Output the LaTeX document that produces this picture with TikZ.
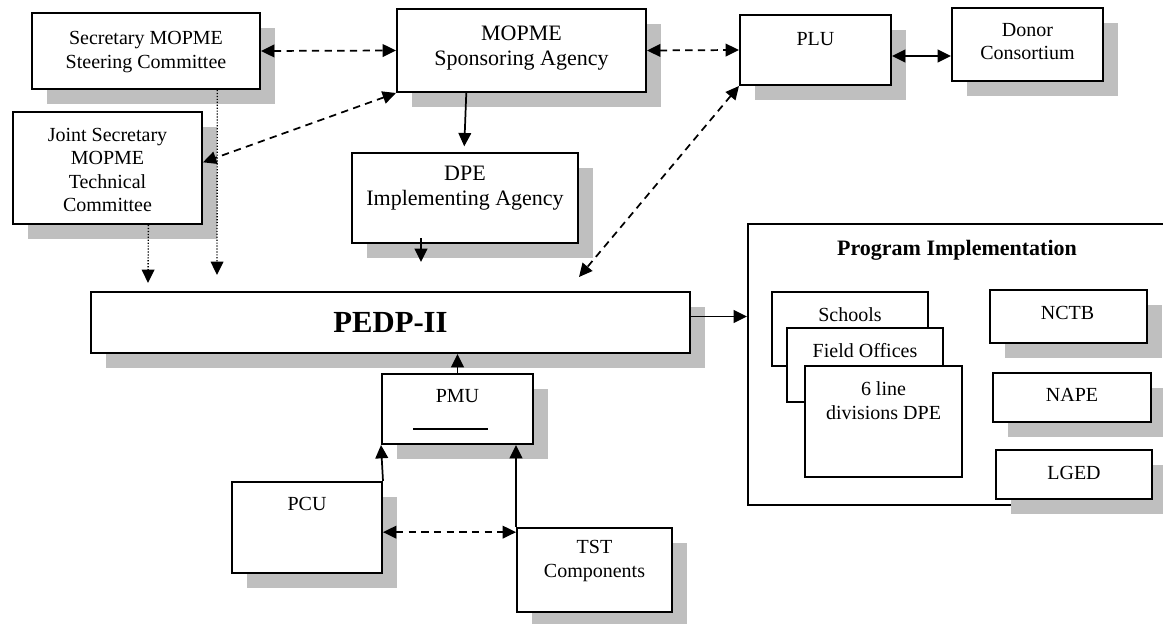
\documentclass[tikz,border=0pt]{standalone}
\usepackage{fontspec}
\setmainfont{Liberation Serif}
\usetikzlibrary{arrows.meta,shadows,calc}
\tikzset{
  px/.style 2 args={minimum width=#1*0.75pt, minimum height=#2*0.75pt},
  box/.style={draw, line width=1.5pt, fill=white, inner sep=0pt},
  sbox/.style={box, drop shadow={shadow xshift=11.5pt, shadow yshift=-11.5pt, fill=black!25, opacity=1}},
  txt/.style={align=center, inner sep=0pt, font=\fontsize{15}{17.5}\selectfont},
  bigtxt/.style={align=center, inner sep=0pt, font=\fontsize{16.5}{19}\selectfont},
  tip/.tip={Triangle[length=10pt,width=9.5pt]},
  conn/.style={line width=1.3pt},
  oneway/.style={conn, -tip},
  twoway/.style={conn, tip-tip},
  dashline/.style={dash pattern=on 5.5pt off 4pt},
  dotline/.style={line width=1pt, dash pattern=on 0.9pt off 1.3pt},
}
\begin{document}
\begin{tikzpicture}[x=0.75pt, y=-0.75pt]
\useasboundingbox (0,0) rectangle (1163,624);

% top row
\node[sbox, px={228}{76}] (steer) at (146,51) {};
\node[txt] (steerT) at (146,52) {Secretary MOPME\\Steering Committee};
\node[sbox, px={249}{83}] (spons) at (521.5,50.5) {};
\node[bigtxt] (sponsT) at (521.5,48) {MOPME\\Sponsoring Agency};
\node[sbox, px={151}{70}] (plu) at (815.5,50) {};
\node[txt] (pluT) at (815.5,39) {PLU};
\node[sbox, px={151}{73}] (donor) at (1027.5,44.5) {};
\node[txt] (donorT) at (1027.5,41.5) {Donor\\Consortium};

% second row
\node[sbox, px={189}{112}] (joint) at (107.5,168) {};
\node[txt] (jointT) at (107.5,170) {Joint Secretary\\MOPME\\Technical\\Committee};
\node[sbox, px={226}{90}] (dpe) at (465,198) {};
\node[bigtxt] (dpeT) at (465,188.5) {DPE\\Implementing Agency};

% PEDP
\node[sbox, px={599}{61}] (pedp) at (390.5,322.5) {};
\node[inner sep=0pt, font=\fontsize{23}{26}\selectfont\bfseries] (pedpT) at (390.5,322.5) {PEDP-II};

% program implementation
\node[box, px={432}{281}] (prog) at (964,364.5) {};
\node[inner sep=0pt, font=\fontsize{16.5}{19}\selectfont\bfseries] (progT) at (957,250) {Program Implementation};
\node[box, px={156}{74}] (schools) at (850,329) {};
\node[txt] (schoolsT) at (850,315) {Schools};
\node[box, px={156}{74}] (field) at (865,365) {};
\node[txt] (fieldT) at (865,351) {Field Offices};
\node[box, px={157}{111}] (six) at (883.5,421.5) {};
\node[txt] (sixT) at (883.5,400.5) {6 line\\divisions DPE};
\node[sbox, px={157}{53}] (nctb) at (1068.5,316.5) {};
\node[txt] (nctbT) at (1067.5,313) {NCTB};
\node[sbox, px={158}{49}] (nape) at (1072,397.5) {};
\node[txt] (napeT) at (1072,395) {NAPE};
\node[sbox, px={156}{49}] (lged) at (1074,474.5) {};
\node[txt] (lgedT) at (1074,473) {LGED};

% lower part
\node[sbox, px={151}{70}] (pmu) at (457.5,409) {};
\node[txt] (pmuT) at (457.5,396) {PMU};
\draw[line width=1pt] (413,429) -- (488,429);
\node[sbox, px={150}{91}] (pcu) at (307,527.5) {};
\node[txt] (pcuT) at (307,504) {PCU};
\node[sbox, px={155}{84}] (tst) at (594.5,570) {};
\node[txt] (tstT) at (594.5,561) {TST\\Components};

% free ends
\coordinate (dpeEnd) at (421,262);
\coordinate (pedpTop) at (579,277);
\coordinate (steerEnd) at (217,275);
\coordinate (jointEnd) at (148,283);
\coordinate (dpeIn) at (464,153);

% connectors
\draw[twoway, dashline] (steer.east) -- (spons.west);
\draw[twoway, dashline] (spons.east) -- (plu.west);
\draw[twoway] ([yshift=-4.5pt]plu.east) -- ([yshift=-4.5pt]plu.east -| donor.west);
\draw[twoway, dashline] (spons.south west) -- ($(joint.north east)!0.45!(joint.south east)$);
\draw[oneway, shorten >=5pt] ($(spons.south west)!0.28!(spons.south east)$) -- (dpeIn);
\draw[oneway] ([yshift=4.5pt]dpe.south -| dpeEnd) -- (dpeEnd);
\draw[twoway, dashline] (plu.south west) -- (pedpTop);
\draw[dotline, -tip] ($(steer.south west)!0.81!(steer.south east)$) -- (steerEnd);
\draw[dotline, -tip] ($(joint.south west)!0.714!(joint.south east)$) -- (jointEnd);
\draw[oneway] ([yshift=4.5pt]pedp.east) -- ([yshift=4.5pt]pedp.east -| prog.west);
\draw[oneway] (pmu.north) -- (pedp.south -| pmu.north);
\draw[oneway] (pcu.north east) -- (pmu.south west);
\draw[oneway] (tst.north west) -- (tst.north west |- pmu.south);
\draw[twoway, dashline] ([yshift=-3.5pt]pcu.east) -- ([yshift=-3.5pt]pcu.east -| tst.west);
\end{tikzpicture}
\end{document}
